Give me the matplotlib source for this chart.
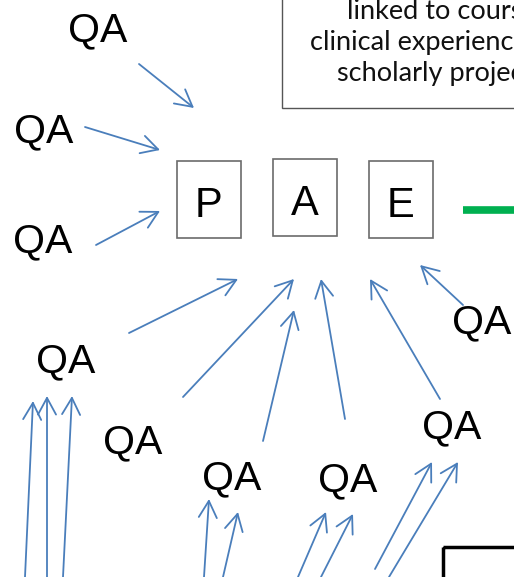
import matplotlib.pyplot as plt
from matplotlib.patches import Rectangle, FancyArrowPatch

# canvas in pixels (y down)
W, H = 514, 577

# P / A / E boxes: letter, left, top, width, height
box_letters = ['P', 'A', 'E']
box_left = [177, 273, 369]
box_top = [161, 159, 161]
box_w = 64
box_h = 77

# QA labels (center x, baseline y)
qa_x = [98, 44, 43, 66, 133, 232, 348, 452, 482]
qa_y = [41, 142, 252, 372, 453, 489, 491, 438, 333]

# arrows: start (x, y) -> tip (x, y)
arrow_x0 = [139, 85, 96, 129, 183, 263, 345, 440, 463,
            25, 47, 63, 204, 223, 298, 321, 375, 389]
arrow_y0 = [64, 127, 245, 333, 397, 441, 419, 399, 305,
            577, 577, 577, 577, 577, 577, 577, 569, 577]
arrow_x1 = [194, 160, 160, 238, 294, 294, 321, 370, 420,
            33, 47, 72, 209, 238, 326, 353, 432, 458]
arrow_y1 = [108, 150, 211, 279, 279, 310, 279, 279, 265,
            401, 396, 396, 499, 512, 512, 514, 462, 462]

# text box at top right (partly off the canvas, as in the original slide)
note_lines = ['linked to courses,', 'clinical experiences,', 'scholarly projects']
note_x = [347, 310, 337]
note_y = [18, 50, 81]

blue = '#4a7ebb'

fig = plt.figure(figsize=(W / 100, H / 100), dpi=100)
ax = fig.add_axes([0, 0, 1, 1])
ax.set_xlim(0, W)
ax.set_ylim(H, 0)
ax.axis('off')

# top-right note box
ax.add_patch(Rectangle((282, -10), 300, 118, fill=False, edgecolor='#555555', lw=1.0))
for txt, x, y in zip(note_lines, note_x, note_y):
    ax.text(x, y, txt, fontsize=19.5, family='Lato', ha='left', va='baseline', color='#111111')

# PAE boxes
for let, l, t in zip(box_letters, box_left, box_top):
    ax.add_patch(Rectangle((l, t), box_w, box_h, fill=False, edgecolor='#6b6b6b', lw=1.2))
    ax.text(l + box_w / 2, t + 56, let, fontsize=30, family='Liberation Sans',
            ha='center', va='baseline', color='black')

# green line to the right
ax.plot([463, W + 5], [210, 210], color='#00b050', lw=5.5, solid_capstyle='butt')

# bottom-right box (partly visible)
ax.add_patch(Rectangle((443, 547), 200, 100, fill=False, edgecolor='black', lw=2.5))

# QA labels
for x, y in zip(qa_x, qa_y):
    ax.text(x, y, 'QA', fontsize=29.5, family='Liberation Sans',
            ha='center', va='baseline', color='black')

# arrows
for x0, y0, x1, y1 in zip(arrow_x0, arrow_y0, arrow_x1, arrow_y1):
    arr = FancyArrowPatch((x0, y0), (x1, y1), arrowstyle='->,head_length=12,head_width=6.5',
                          mutation_scale=1, color=blue, lw=1.3, shrinkA=0, shrinkB=0)
    ax.add_patch(arr)

fig.savefig('out.png', dpi=100)
